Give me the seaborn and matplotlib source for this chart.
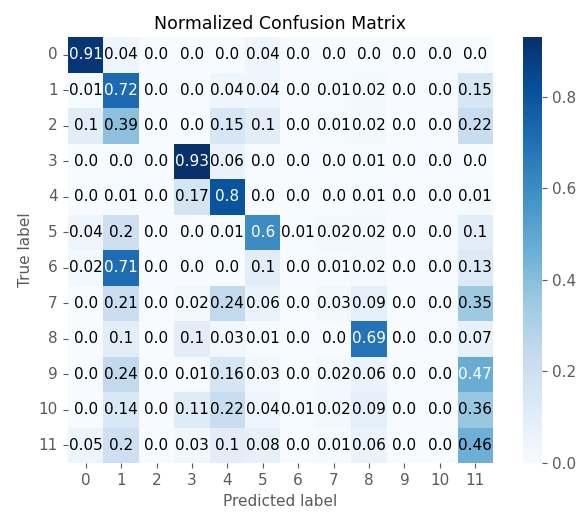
import numpy as np
import seaborn as sns
import matplotlib
matplotlib.use("Agg")
import matplotlib.pyplot as plt

# class labels on both axes
labels = [str(i) for i in range(12)]

# normalized confusion matrix, one list per true label
row0 = [0.91, 0.04, 0.0, 0.0, 0.0, 0.04, 0.0, 0.0, 0.0, 0.0, 0.0, 0.0]
row1 = [0.01, 0.72, 0.0, 0.0, 0.04, 0.04, 0.0, 0.01, 0.02, 0.0, 0.0, 0.15]
row2 = [0.1, 0.39, 0.0, 0.0, 0.15, 0.1, 0.0, 0.01, 0.02, 0.0, 0.0, 0.22]
row3 = [0.0, 0.0, 0.0, 0.93, 0.06, 0.0, 0.0, 0.0, 0.01, 0.0, 0.0, 0.0]
row4 = [0.0, 0.01, 0.0, 0.17, 0.8, 0.0, 0.0, 0.0, 0.01, 0.0, 0.0, 0.01]
row5 = [0.04, 0.2, 0.0, 0.0, 0.01, 0.6, 0.01, 0.02, 0.02, 0.0, 0.0, 0.1]
row6 = [0.02, 0.71, 0.0, 0.0, 0.0, 0.1, 0.0, 0.01, 0.02, 0.0, 0.0, 0.13]
row7 = [0.0, 0.21, 0.0, 0.02, 0.24, 0.06, 0.0, 0.03, 0.09, 0.0, 0.0, 0.35]
row8 = [0.0, 0.1, 0.0, 0.1, 0.03, 0.01, 0.0, 0.0, 0.69, 0.0, 0.0, 0.07]
row9 = [0.0, 0.24, 0.0, 0.01, 0.16, 0.03, 0.0, 0.02, 0.06, 0.0, 0.0, 0.47]
row10 = [0.0, 0.14, 0.0, 0.11, 0.22, 0.04, 0.01, 0.02, 0.09, 0.0, 0.0, 0.36]
row11 = [0.05, 0.2, 0.0, 0.03, 0.1, 0.08, 0.0, 0.01, 0.06, 0.0, 0.0, 0.46]

cm = np.array([row0, row1, row2, row3, row4, row5, row6, row7,
               row8, row9, row10, row11])
annot = np.array([[str(v) for v in r] for r in cm])

grey = "#5a5a5a"
plt.rcParams["xtick.color"] = grey
plt.rcParams["ytick.color"] = grey
plt.rcParams["axes.labelcolor"] = grey

fig = plt.figure(figsize=(5.82, 5.13), dpi=100)
ax = fig.add_axes([0.1168, 0.0975, 0.7302, 0.830])
cax = fig.add_axes([0.8986, 0.0975, 0.0326, 0.830])

sns.heatmap(cm, cmap="Blues", vmin=0, vmax=cm.max(), annot=annot, fmt="",
            annot_kws={"fontsize": 11}, xticklabels=labels, yticklabels=labels,
            ax=ax, cbar_ax=cax)

# white text on dark cells, like the usual confusion matrix recipe
thresh = cm.max() / 2
for t, v in zip(ax.texts, cm.flatten()):
    t.set_color("white" if v > thresh else "black")

ax.set_title("Normalized Confusion Matrix", fontsize=12.5, color="black")
ax.set_xlabel("Predicted label", fontsize=11)
ax.set_ylabel("True label", fontsize=11)
ax.tick_params(labelsize=11, length=3.5, pad=4, color=grey)
ax.tick_params(axis="y", rotation=0)
cax.tick_params(labelsize=11, length=3.5, color=grey)
cax.set_yticks([0.0, 0.2, 0.4, 0.6, 0.8])

fig.savefig("out.png", dpi=100)
